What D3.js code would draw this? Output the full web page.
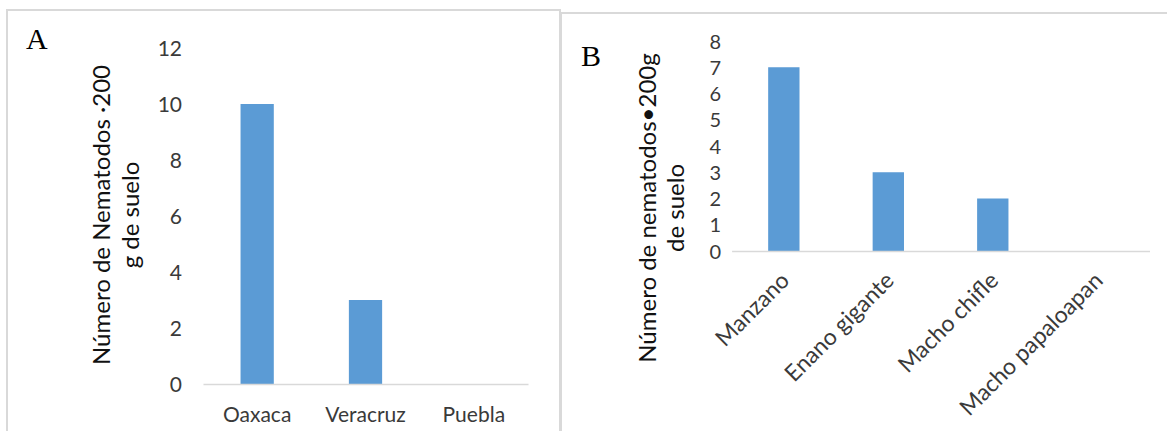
<!DOCTYPE html>
<html><head><meta charset="utf-8">
<script src="https://cdn.jsdelivr.net/npm/d3@7"></script>
<style>html,body{margin:0;padding:0;background:#fff;} svg{display:block;}</style>
</head><body>
<svg id="c" width="1167" height="431"></svg>
<script>
// ---- data ----
const categoriesA = ["Oaxaca", "Veracruz", "Puebla"];
const valuesA = [10, 3, 0];
const ticksA = [0, 2, 4, 6, 8, 10, 12];
const titleA = ["Número de Nematodos ·200", "g de suelo"];
const panelLabelA = "A";

const categoriesB = ["Manzano", "Enano gigante", "Macho chifle", "Macho papaloapan"];
const valuesB = [7, 3, 2, 0];
const ticksB = [0, 1, 2, 3, 4, 5, 6, 7, 8];
const titleB = ["Número de nematodos•200g", "de suelo"];
const panelLabelB = "B";

// ---- drawing ----
const svg = d3.select("#c");
const FONT = "Lato, 'Open Sans', sans-serif";
const BAR = "#5b9bd5";
const AXIS = "#d9d9d9";
const FRAME = "#d9d9d9";

// frames
svg.append("path").attr("d", "M7,440 V10 H560 V440").attr("fill", "none").attr("stroke", FRAME).attr("stroke-width", 2);
svg.append("path").attr("d", "M561,440 V13 H1170").attr("fill", "none").attr("stroke", FRAME).attr("stroke-width", 2);

function panel(o) {
  const g = svg.append("g");
  const x = d3.scaleBand().domain(o.cats).range(o.xr).paddingInner(o.pad).paddingOuter(o.pad / 2);
  const y = d3.scaleLinear().domain(o.dom).range(o.yr);

  g.selectAll("rect.bar").data(o.vals).enter().append("rect")
    .attr("x", (d, i) => x(o.cats[i]))
    .attr("width", x.bandwidth())
    .attr("y", d => y(d))
    .attr("height", d => y(0) - y(d))
    .attr("fill", BAR);

  // y axis (labels only)
  const ya = d3.axisLeft(y).tickValues(o.ticks).tickSize(0).tickPadding(0);
  const yg = g.append("g").attr("transform", `translate(${o.yLabX},0)`).call(ya);
  yg.select(".domain").remove();
  yg.selectAll("text").attr("font-family", FONT).attr("font-size", o.tickFs).attr("fill", "#3a3a3a").attr("dy", "0.35em");

  // x axis
  const xa = d3.axisBottom(x).tickSize(0).tickPadding(0);
  const xg = g.append("g").attr("transform", `translate(0,${y(0)})`).call(xa);
  xg.select(".domain").attr("stroke", AXIS).attr("stroke-width", 1.5);
  xg.selectAll("text").attr("font-family", FONT).attr("font-size", o.xFs).attr("fill", "#3a3a3a");
  if (o.rot) {
    xg.selectAll("text").attr("text-anchor", "end").attr("dy", 0).attr("y", 0)
      .attr("transform", `translate(${o.rotDx},${o.rotDy}) rotate(-45)`);
  } else {
    xg.selectAll("text").attr("dy", 0).attr("y", o.xLabDy);
  }

  // axis title
  o.title.forEach((t, i) => {
    g.append("text").attr("transform", `translate(${o.titleX[i]},${o.titleY}) rotate(-90)`)
      .attr("text-anchor", "middle").attr("font-family", FONT).attr("font-size", o.titleFs)
      .attr("fill", "#111").text(t);
  });

  g.append("text").attr("x", o.lab[0]).attr("y", o.lab[1]).attr("font-family", "'Liberation Serif', 'Times New Roman', serif")
    .attr("font-size", 30).attr("fill", "#000").text(o.label);
}

panel({cats: categoriesA, vals: valuesA, ticks: ticksA, dom: [0, 12],
  xr: [203, 528], yr: [384, 48], pad: 0.693, yLabX: 182, tickFs: 21, xFs: 21, xLabDy: 38,
  title: titleA, titleX: [110, 139], titleY: 215, titleFs: 24, label: panelLabelA, lab: [26, 49]});

panel({cats: categoriesB, vals: valuesB, ticks: ticksB, dom: [0, 8],
  xr: [731.6, 1149.5], yr: [251, 41], pad: 0.70, yLabX: 721, tickFs: 20, xFs: 23, rot: true, rotDx: 7, rotDy: 31,
  title: titleB, titleX: [656, 684], titleY: 208, titleFs: 24, label: panelLabelB, lab: [581, 66]});
</script>
</body></html>
